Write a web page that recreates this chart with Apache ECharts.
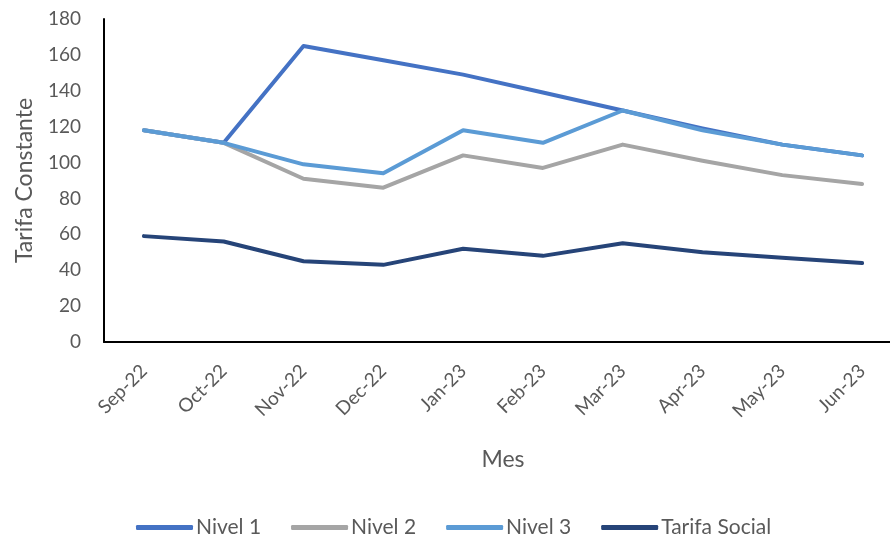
<!DOCTYPE html>
<html>
<head>
<meta charset="utf-8">
<script src="https://cdn.jsdelivr.net/npm/echarts@6/dist/echarts.min.js"></script>
<style>
  html, body { margin: 0; padding: 0; background: #fff; }
  #chart { width: 890px; height: 537px; }
</style>
</head>
<body>
<div id="chart"></div>
<script>
// meses
const months = ['Sep-22', 'Oct-22', 'Nov-22', 'Dec-22', 'Jan-23', 'Feb-23', 'Mar-23', 'Apr-23', 'May-23', 'Jun-23']

// valores
const nivel1 = [118, 111, 165, 157, 149, 139, 129, 119, 110, 104]
const nivel2 = [118, 111, 91, 86, 104, 97, 110, 101, 93, 88]
const nivel3 = [118, 111, 99, 94, 118, 111, 129, 118, 110, 104]
const tarifaSocial = [59, 56, 45, 43, 52, 48, 55, 50, 47, 44]

const font = 'Lato, "Open Sans", sans-serif'
const textColor = '#595959'

const chart = echarts.init(document.getElementById('chart'))

const lineSeries = (name, data, color) => ({
  name: name,
  type: 'line',
  data: data,
  symbol: 'none',
  lineStyle: { width: 4, color: color, cap: 'round', join: 'round' },
  itemStyle: { color: color },
  emphasis: { disabled: true }
})

chart.setOption({
  animation: false,
  textStyle: { fontFamily: font },
  grid: { left: 104, top: 19, width: 798, height: 323, containLabel: false, outerBoundsMode: 'none' },
  xAxis: {
    type: 'category',
    data: months,
    boundaryGap: true,
    name: 'Mes',
    nameLocation: 'middle',
    nameGap: 106,
    nameTextStyle: { color: textColor, fontSize: 23, fontFamily: font },
    axisLine: { lineStyle: { color: '#000', width: 2 } },
    axisTick: { show: false },
    axisLabel: {
      rotate: 45,
      color: textColor,
      fontSize: 19,
      fontFamily: font,
      margin: 26
    },
    splitLine: { show: false }
  },
  yAxis: {
    type: 'value',
    min: 0,
    max: 180,
    interval: 20,
    name: 'Tarifa Constante',
    nameLocation: 'middle',
    nameGap: 68,
    nameTextStyle: { color: textColor, fontSize: 23, fontFamily: font },
    axisLine: { show: true, lineStyle: { color: '#000', width: 2 } },
    axisTick: { show: false },
    axisLabel: { color: textColor, fontSize: 19, fontFamily: font, margin: 23 },
    splitLine: { show: false }
  },
  legend: {
    top: 512,
    left: 131,
    itemWidth: 57,
    itemHeight: 5,
    itemGap: 30,
    icon: 'roundRect',
    textStyle: { color: textColor, fontSize: 21, fontFamily: font, padding: [0, 0, 0, -2] },
    data: ['Nivel 1', 'Nivel 2', 'Nivel 3', 'Tarifa Social']
  },
  series: [
    lineSeries('Nivel 1', nivel1, '#4472C4'),
    lineSeries('Nivel 2', nivel2, '#A5A5A5'),
    lineSeries('Nivel 3', nivel3, '#5B9BD5'),
    lineSeries('Tarifa Social', tarifaSocial, '#264478')
  ]
})
</script>
</body>
</html>
